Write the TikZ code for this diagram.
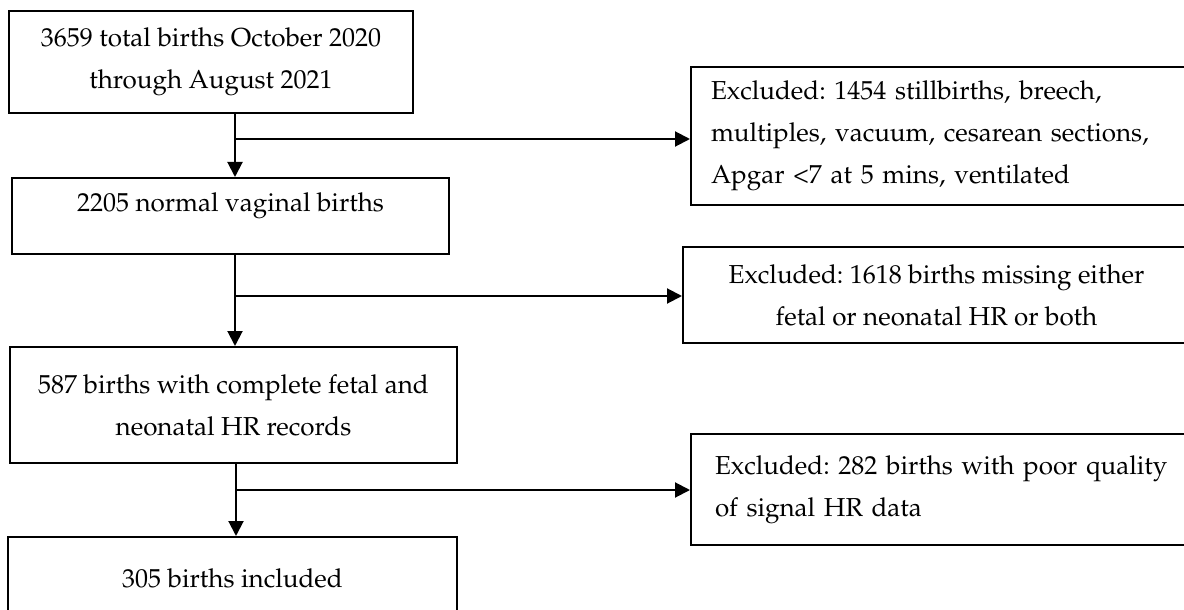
\documentclass[tikz,border=0pt]{standalone}
\usepackage[T1]{fontenc}
\usepackage{mathpazo}
\usepackage{tikz}
\usetikzlibrary{arrows.meta}
\frenchspacing

\begin{document}
\begin{tikzpicture}[
        x=0.5pt, y=-0.5pt,
        box/.style={draw, line width=1pt, inner sep=0pt, align=center, font=\fontsize{13}{21}\selectfont},
        exbox/.style={box, anchor=west, align=left, inner xsep=#1, text width=240pt},
        arr/.style={-{Triangle[length=7.5pt, width=7.5pt]}, line width=1pt}
    ]
    \useasboundingbox (0,0) rectangle (1184,610);

    % Nodes
    \node[box, minimum width=202pt, minimum height=51pt] (total) at (211,62)
        {3659 total births October 2020 \\ through August 2021};
    \node[box, minimum width=218.5pt, minimum height=38pt, text height=9pt, text depth=13pt] (vaginal) at (230.5,216)
        {2205 normal vaginal births};
    \node[box, minimum width=223.5pt, minimum height=58pt] (complete) at (233.5,405)
        {587 births with complete fetal and \\ neonatal HR records};
    \node[box, minimum width=224.5pt, minimum height=41pt] (included) at (232.5,578)
        {305 births included};

    \node[exbox=10pt, minimum height=69pt] (excl1) at (690,136)
        {Excluded: 1454 stillbirths, breech, \\ multiples, vacuum, cesarean sections, \\ Apgar \textless7 at 5 mins, ventilated};
    \node[box, minimum width=253.5pt, minimum height=48pt] (excl2) at (936.5,295)
        {Excluded: 1618 births missing either \\ fetal or neonatal HR or both};
    \node[exbox=12pt, minimum height=55.5pt] (excl3) at (690,489.5)
        {Excluded: 282 births with poor quality \\ of signal HR data};

    % Arrows
    \coordinate (b1) at (235,139);
    \coordinate (b2) at (235,296);
    \coordinate (b3) at (236,490);
    \draw[arr] (total.south -| b1) -- (vaginal.north -| b1);
    \draw[arr] (b1) -- (excl1.west |- b1);
    \draw[arr] (vaginal.south -| b2) -- (complete.north -| b2);
    \draw[arr] (b2) -- (excl2.west |- b2);
    \draw[arr] (complete.south -| b3) -- (included.north -| b3);
    \draw[arr] (b3) -- (excl3.west |- b3);

\end{tikzpicture}
\end{document}
